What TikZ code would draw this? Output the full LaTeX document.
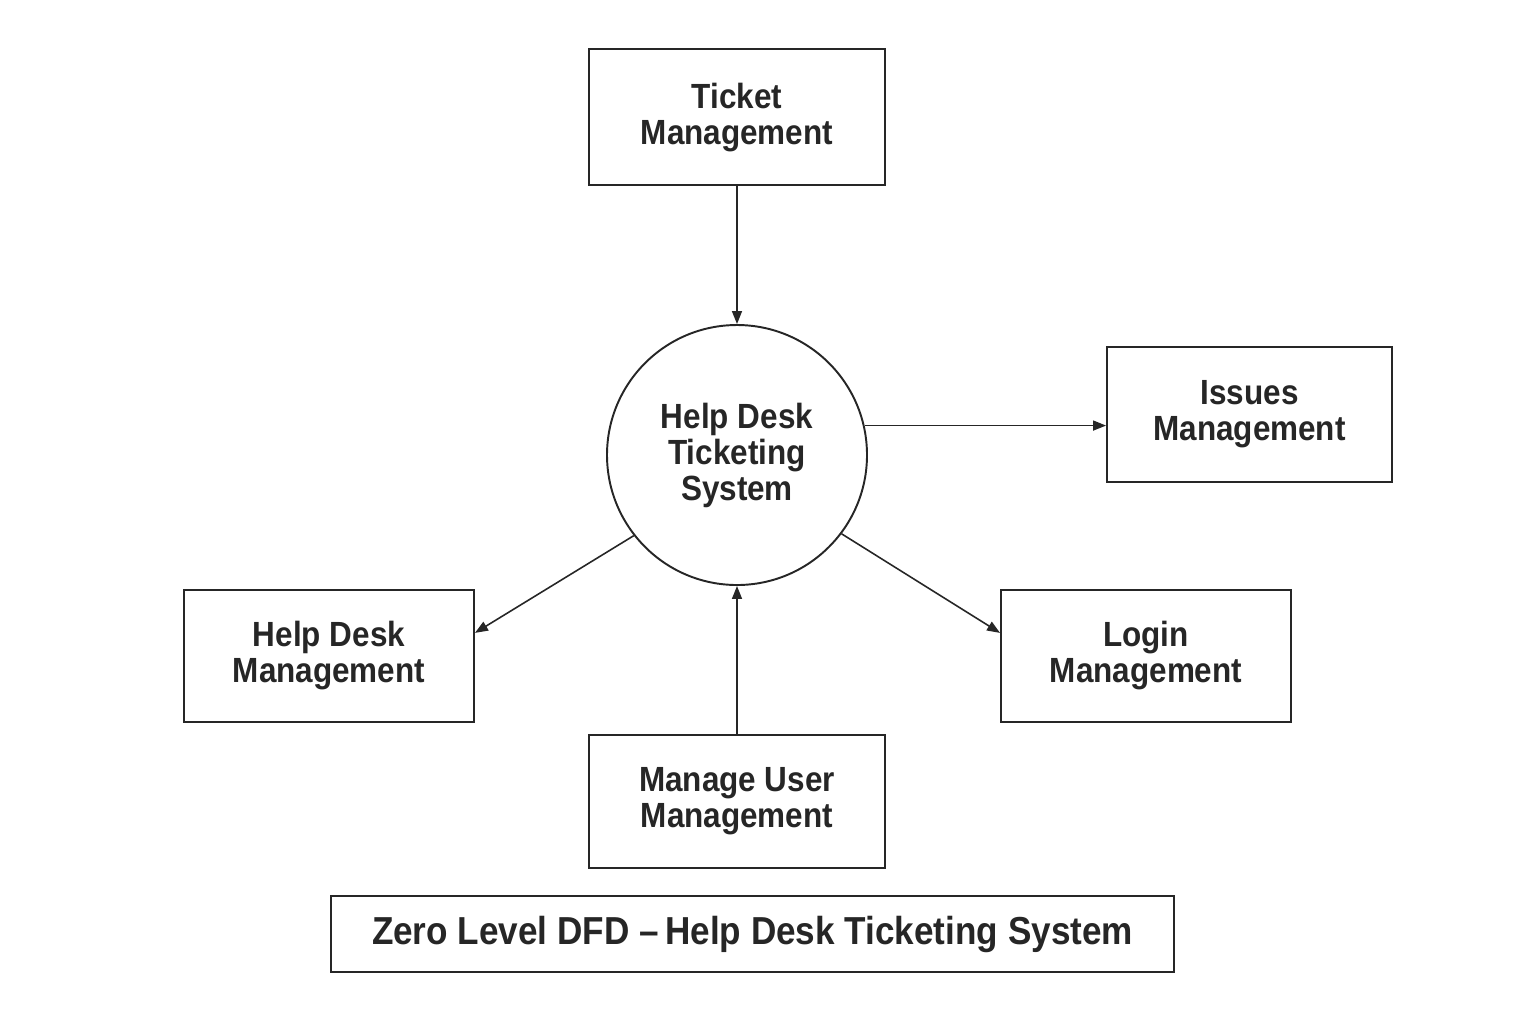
\documentclass[tikz,border=0pt]{standalone}
\usepackage{fontspec}
\newfontfamily\dfdfont{Liberation Sans}[FakeStretch=0.9]
\usepackage{xcolor}
\definecolor{dfdgray}{RGB}{38,38,38}
\usepackage{tikz}
\usetikzlibrary{positioning}
\usetikzlibrary{arrows.meta}
\usetikzlibrary{shapes}
\tikzset{proc box/.style={rectangle,draw=dfdgray,line width=1.1pt,align=center,text=dfdgray,
    font=\dfdfont\bfseries\fontsize{19.9}{20.5}\selectfont,inner sep=0pt},
  proc node/.style={circle,draw=dfdgray,line width=1.1pt,align=center,text=dfdgray,minimum size=5.2cm,
    font=\dfdfont\bfseries\fontsize{19.9}{20.5}\selectfont,inner sep=0pt},}

\begin{document}
\begin{tikzpicture}[-{Triangle[length=0.26cm,width=0.2cm]}, auto, node distance=1cm, line width=0.9pt]
		\useasboundingbox (0,0) rectangle (30.72,-20.48);
		\node[proc node] (hdts) at (14.74,-9.10) {Help Desk\\Ticketing\\System};
	    \node[proc box, minimum width=5.92cm, minimum height=2.72cm] (tick) [above = 2.76cm of hdts] {Ticket\\Management};
	    \node[proc box, minimum width=5.92cm, minimum height=2.66cm] (user) [below = 2.96cm of hdts] {Manage User\\Management};
	    \node[proc box, minimum width=5.70cm, minimum height=2.70cm] (issues) at (24.99,-8.29) {Issues\\Management};
	    \node[proc box, minimum width=5.80cm, minimum height=2.64cm] (hdm) at (6.58,-13.12) {Help Desk\\Management};
	    \node[proc box, minimum width=5.80cm, minimum height=2.64cm] (login) at (22.92,-13.12) {Login\\Management};
	    \node[proc box, minimum width=16.86cm, minimum height=1.52cm,
	      font=\dfdfont\bfseries\fontsize{22.2}{24}\selectfont] (title) at (15.05,-18.68) {Zero Level DFD –\,Help Desk Ticketing System};
	
	    \path[dfdgray]
	    (tick) edge (hdts)
	    (hdts.13) edge (issues.west |- hdts.13)
	    (hdts.218) edge (hdm.9)
	    (hdts.323) edge (login.171)
	    (user) edge (hdts);
	\end{tikzpicture}
\end{document}
